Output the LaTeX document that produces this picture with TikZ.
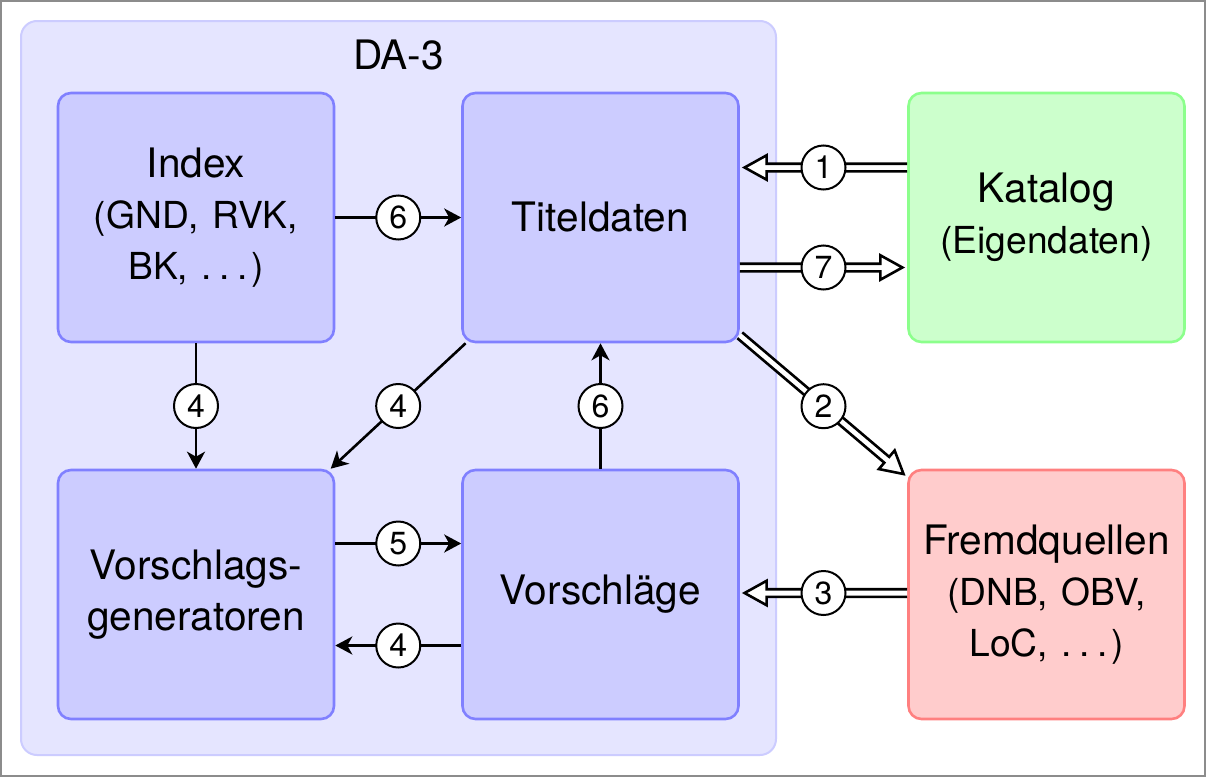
\documentclass[tikz,border=0pt]{standalone}
\usepackage{fontspec}
\setmainfont{TeX Gyre Heros}
\usetikzlibrary{arrows.meta,calc}
\definecolor{contf}{HTML}{E5E5FF}
\definecolor{contb}{HTML}{CCCCFF}
\definecolor{boxf}{HTML}{CCCCFF}
\definecolor{boxb}{HTML}{8080FF}
\definecolor{katf}{HTML}{CCFFCC}
\definecolor{katb}{HTML}{8CFF8C}
\definecolor{frf}{HTML}{FFCCCC}
\definecolor{frb}{HTML}{FF8080}
\newcommand\bigf{\fontsize{20.3}{25.5}\selectfont}
\newcommand\smallf{\fontsize{18.6}{22}\selectfont}
\newcommand\mydots{.\kern3.8pt.\kern3.8pt.\kern1.6pt}
\newcommand\dblarr[2]{%
  \coordinate (da) at (#1);
  \coordinate (db) at ($(#2)!2.4pt!(#1)$);
  \coordinate (dc) at ($(db)!11pt!(da)$);
  \draw[dblarrow] ($(da)!1.9pt!90:(db)$) -- ($(dc)!1.9pt!-90:(da)$) -- ($(dc)!6.1pt!-90:(da)$) -- (db) -- ($(dc)!6.1pt!90:(da)$) -- ($(dc)!1.9pt!90:(da)$) -- ($(da)!1.9pt!-90:(db)$);
}
\tikzset{
  cont/.style={draw=contb, fill=contf, line width=1pt, rounded corners=8pt, minimum width=377.5pt, minimum height=367pt, inner sep=0pt},
  box/.style={draw=boxb, fill=boxf, line width=1.3pt, rounded corners=6.5pt, minimum width=138pt, minimum height=124.5pt, text width=135pt, align=center, inner sep=0pt, font=\bigf},
  katbox/.style={box, draw=katb, fill=katf},
  frbox/.style={box, draw=frb, fill=frf},
  circ/.style={circle, draw=black, fill=white, line width=1pt, minimum size=22pt, inner sep=0pt, font=\fontsize{16}{18}\selectfont},
  arr/.style={draw=black, line width=1.3pt, -{Stealth[length=8.5pt, width=9pt, inset=2.5pt]}},
  dblarrow/.style={draw=black, fill=white, line width=1.3pt, line join=miter, miter limit=10},
}
\begin{document}
\begin{tikzpicture}[x=0.5pt, y=-0.5pt]
\useasboundingbox (0,0) rectangle (1206,777);
\fill[white] (0,0) rectangle (1206,777);
\draw[draw=black!45, line width=1pt] (1,1) rectangle (1205,776);
\node[cont] (D) at (398.5,388) {};
\node[font=\bigf] (lbl) at (398.5,55) {DA-3};
\node[box] (I) at (196,217.5) {Index\\{\smallf (GND, RVK,}\\{\smallf BK, \mydots)}};
\node[box] (T) at (600.5,217.5) {Titeldaten};
\node[box] (V) at (196,594.5) {Vorschlags-\\generatoren};
\node[box] (S) at (600.5,594.5) {Vorschläge};
\node[katbox] (K) at (1046.5,217.5) {Katalog\\{\smallf (Eigendaten)}};
\node[frbox] (F) at (1046.5,594.5) {Fremdquellen\\{\smallf (DNB, OBV,}\\{\smallf LoC, \mydots)}};
% single arrows
\draw[arr] (I) -- node[circ] (c6a) {6} (T);
\draw[arr] (I) -- node[circ] (c4a) {4} (V);
\draw[arr] (T) -- node[circ] (c4b) {4} (V);
\draw[arr] (S) -- node[circ] (c6b) {6} (T);
\draw[arr] ($(V.east)+(0,-51)$) -- node[circ] (c5) {5} ($(S.west)+(0,-51)$);
\draw[arr] ($(S.west)+(0,51)$) -- node[circ] (c4c) {4} ($(V.east)+(0,51)$);
% double arrows
\coordinate (k1s) at ($(K.west)+(0,-50)$);
\coordinate (k1e) at ($(T.east)+(0,-50)$);
\dblarr{k1s}{k1e}
\node[circ] (c1) at ($(k1s)!0.5!(k1e)$) {1};
\coordinate (k7s) at ($(T.east)+(0,50)$);
\coordinate (k7e) at ($(K.west)+(0,50)$);
\dblarr{k7s}{k7e}
\node[circ] (c7) at ($(k7s)!0.5!(k7e)$) {7};
\path (T) -- coordinate[pos=0] (t2s) coordinate[pos=1] (t2e) (F);
\dblarr{t2s}{t2e}
\node[circ] (c2) at ($(t2s)!0.5!(t2e)$) {2};
\coordinate (f3s) at ($(F.west)+(0,-1.5)$);
\coordinate (f3e) at ($(S.east)+(0,-1.5)$);
\dblarr{f3s}{f3e}
\node[circ] (c3) at ($(f3s)!0.5!(f3e)$) {3};
\end{tikzpicture}
\end{document}
